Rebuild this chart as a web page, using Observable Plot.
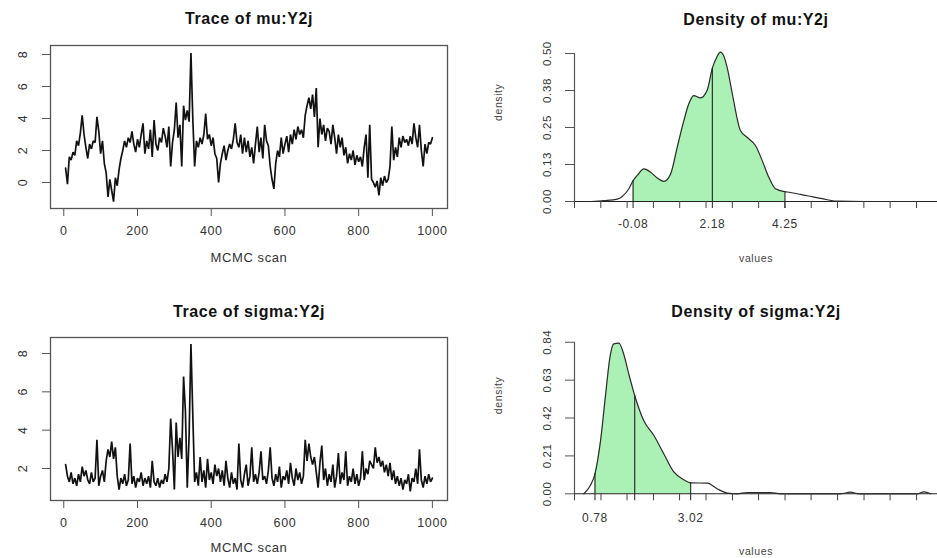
<!DOCTYPE html>
<html><head><meta charset="utf-8">
<script src="https://cdn.jsdelivr.net/npm/d3@7"></script>
<script src="https://cdn.jsdelivr.net/npm/@observablehq/plot@0.6"></script>
<style>
body{margin:0;background:#fff;}
#wrap{position:relative;width:937px;height:558px;overflow:hidden;background:#fff;}
.cell{position:absolute;}
</style></head><body><div id="wrap"></div>
<script>
const FONT = "'Liberation Sans', Arial, Helvetica, sans-serif";

// ---- trace plots ----
const traceTicksX = [0, 200, 400, 600, 800, 1000];
const traceStep = 5;
const muTraceYTicks = [0, 2, 4, 6, 8];
const sigmaTraceYTicks = [2, 4, 6, 8];
const muTrace = [
  0.9, -0.1, 1.6, 1.4, 1.9, 1.7, 2.6, 2.3, 3.1, 4.2,
  3.0, 2.2, 1.5, 2.4, 2.1, 2.6, 2.5, 4.1, 3.2, 1.8,
  2.6, 1.2, 0.6, -0.9, 0.2, -0.5, -1.2, 0.3, -0.2, 0.8,
  1.5, 2.0, 2.6, 2.2, 2.8, 2.5, 3.2, 2.4, 1.9, 2.7,
  2.2, 3.0, 3.7, 1.8, 2.6, 2.1, 3.3, 1.6, 3.9, 2.4,
  2.0, 2.8, 2.5, 3.4, 2.9, 2.2, 3.5, 1.0, 2.5, 3.3,
  5.0, 2.8, 3.6, 1.0, 4.8, 3.9, 4.5, 3.8, 8.1, 4.0,
  1.0, 2.6, 2.2, 2.8, 2.4, 3.0, 4.3, 2.7, 3.0, 2.3,
  2.8, 1.8, 1.5, 0.0, 1.2, 1.8, 2.3, 1.4, 2.0, 2.4,
  2.1, 2.7, 3.7, 2.5, 2.2, 3.0, 1.8, 2.8, 1.9, 2.6,
  1.6, 2.2, 1.2, 2.4, 3.5, 1.9, 2.8, 1.5, 3.6, 2.6,
  2.3, 1.0, 0.2, -0.4, 1.2, 2.0, 1.6, 2.8, 1.8, 2.4,
  2.9, 1.9, 3.0, 2.4, 3.3, 2.7, 3.5, 3.0, 3.3, 2.8,
  4.2, 4.8, 5.3, 4.6, 5.5, 4.1, 5.9, 2.2, 4.0, 3.0,
  3.6, 2.6, 3.4, 3.2, 2.4, 3.6, 2.8, 1.8, 3.0, 2.2,
  2.8, 1.7, 2.2, 1.2, 1.8, 1.4, 2.0, 1.1, 1.7, 1.3,
  1.6, 1.0, 2.2, 3.0, 0.3, 3.6, 0.2, 0.0, -0.3, 0.1,
  -0.8, 0.3, -0.2, 0.4, 0.0, 0.2, 1.0, 3.5, 1.4, 2.2,
  1.6, 2.8, 2.2, 2.9, 2.5, 2.7, 2.3, 2.9, 2.4, 3.7,
  2.8, 2.2, 3.6, 2.0, 1.0, 2.4, 1.8, 2.5, 2.4, 2.8
];
const sigmaTrace = [
  2.2, 1.6, 1.3, 1.8, 1.2, 1.5, 1.1, 1.7, 1.3, 2.1,
  1.6, 1.9, 1.4, 1.2, 1.8, 1.3, 1.5, 3.5, 1.1, 1.6,
  1.9, 1.3, 2.4, 3.0, 2.6, 3.4, 2.5, 3.1, 1.6, 0.9,
  1.5, 1.2, 1.7, 1.1, 1.4, 3.3, 1.2, 1.6, 1.0, 1.5,
  1.3, 1.8, 1.1, 1.5, 1.2, 1.6, 1.0, 2.4, 1.3, 1.1,
  1.5, 1.0, 1.4, 1.2, 1.7, 1.3, 2.0, 4.6, 3.0, 0.9,
  4.4, 2.6, 3.6, 2.5, 6.8, 5.0, 1.0, 3.7, 8.5, 4.8,
  1.3, 1.8, 1.1, 2.6, 1.3, 1.9, 1.0, 2.5, 1.4, 1.8,
  1.2, 2.2, 1.6, 2.0, 1.3, 1.9, 1.1, 2.4, 1.5, 1.0,
  1.8, 1.2, 1.5, 0.9, 3.3, 1.4, 1.0, 1.7, 2.2, 1.1,
  1.6, 3.1, 1.3, 1.7, 1.2, 1.8, 2.9, 1.4, 1.6, 1.2,
  1.9, 3.1, 1.5, 1.1, 1.7, 1.3, 2.1, 1.0, 1.6, 1.4,
  1.9, 1.2, 2.3, 1.5, 1.1, 2.0, 1.4, 1.8, 1.2, 1.6,
  3.5, 2.4, 3.3, 2.6, 2.2, 2.6, 1.8, 1.0, 2.3, 3.2,
  1.4, 2.0, 1.1, 1.7, 1.3, 2.2, 1.0, 1.6, 2.8, 1.2,
  1.8, 1.4, 2.9, 1.1, 1.6, 1.3, 2.0, 1.2, 1.7, 1.1,
  1.5, 2.9, 1.4, 2.0, 1.7, 2.4, 2.2, 2.0, 3.1, 2.3,
  2.6, 2.1, 2.4, 1.8, 2.2, 1.6, 2.3, 1.4, 1.9, 1.2,
  1.6, 1.1, 1.5, 0.9, 1.4, 1.2, 1.7, 0.8, 1.5, 1.3,
  2.0, 1.2, 3.0, 1.4, 1.0, 1.6, 1.2, 1.7, 1.3, 1.5
];

// ---- density plots ----
const muDensX = [-1.29, -0.91, -0.53, -0.39, -0.20, -0.08, 0.04, 0.23, 0.42, 0.61, 0.80, 0.99, 1.18, 1.37, 1.51, 1.65, 1.84, 2.03, 2.18, 2.31, 2.41, 2.50, 2.60, 2.75, 2.98, 3.17, 3.41, 3.60, 3.79, 3.98, 4.25, 4.31, 4.69, 5.07, 5.46, 5.74, 6.5, 7.3, 8.1];
const muDensY = [0, 0.003, 0.008, 0.017, 0.043, 0.070, 0.088, 0.110, 0.099, 0.079, 0.068, 0.093, 0.184, 0.274, 0.330, 0.358, 0.350, 0.375, 0.450, 0.488, 0.505, 0.493, 0.454, 0.364, 0.240, 0.217, 0.189, 0.139, 0.082, 0.043, 0.033, 0.032, 0.024, 0.015, 0.006, 0.001, 0, 0, 0];
const muQuant = [-0.08, 2.18, 4.25];
const muQuantLabels = ["-0.08", "2.18", "4.25"];
const muQuantDens = [0.070, 0.450, 0.033];
const muDensTicks = [-1.75, -1.0, -0.25, 0.5, 1.25, 2.0, 2.75, 3.5, 4.25, 5.0, 5.75, 6.5, 7.25, 8.0];
const muDensYTicks = [0, 0.125, 0.25, 0.375, 0.5];
const muDensYLabels = ["0.00", "0.13", "0.25", "0.38", "0.50"];

const sigmaDensX = [0.52, 0.67, 0.78, 0.91, 1.03, 1.13, 1.22, 1.34, 1.45, 1.57, 1.71, 1.92, 2.16, 2.39, 2.63, 2.86, 3.02, 3.41, 3.64, 3.88, 4.11, 4.34, 4.89, 5.12, 6.53, 6.76, 6.96, 8.33, 8.48, 8.64];
const sigmaDensY = [0, 0.046, 0.111, 0.295, 0.554, 0.757, 0.831, 0.835, 0.776, 0.665, 0.545, 0.406, 0.323, 0.222, 0.120, 0.078, 0.061, 0.059, 0.028, 0.004, 0, 0.007, 0.007, 0, 0, 0.009, 0, 0, 0.011, 0];
const sigmaQuant = [0.78, 1.71, 3.02];
const sigmaQuantLabels = ["0.78", "", "3.02"];
const sigmaQuantDens = [0.111, 0.545, 0.061];
const sigmaDensTicks = [0.30, 0.92, 1.53, 2.15, 2.76, 3.38, 4.00, 4.61, 5.23, 5.84, 6.46, 7.08, 7.69, 8.31];
const sigmaDensYTicks = [0, 0.21, 0.42, 0.63, 0.84];
const sigmaDensYLabels = ["0.00", "0.21", "0.42", "0.63", "0.84"];

const wrap = document.getElementById("wrap");
function place(el, left, top) {
  const d = document.createElement("div");
  d.className = "cell";
  d.style.left = left + "px";
  d.style.top = top + "px";
  d.appendChild(el);
  wrap.appendChild(d);
}

const baseStyle = {fontFamily: FONT, fontSize: "12.5px", color: "#333", background: "#fff", letterSpacing: "0.6px"};

function tracePlot({values, yDomain, yTicks, title, marginTop, marginBottom, titleDy, labelDy}) {
  const data = values.map((v, i) => ({iter: (i + 1) * traceStep, v}));
  return Plot.plot({
    width: 470, height: 279,
    marginLeft: 50, marginRight: 23, marginTop, marginBottom,
    x: {domain: [-36, 1041]},
    y: {domain: yDomain},
    style: baseStyle,
    marks: [
      Plot.line(data, {x: "iter", y: "v", stroke: "#111", strokeWidth: 1.7, strokeLinejoin: "miter"}),
      Plot.frame({stroke: "#555", strokeWidth: 1.3}),
      Plot.axisX({ticks: traceTicksX, tickSize: 8, tickPadding: 10, tickFormat: d => String(d), label: null, stroke: "#555", fontSize: 12.5}),
      Plot.axisY({ticks: yTicks, tickSize: 8, tickFormat: () => "", label: null, stroke: "#555"}),
      Plot.text(yTicks, {y: d => d, frameAnchor: "left", dx: -28, rotate: -90, text: d => String(d), textAnchor: "middle", lineAnchor: "middle", fill: "#333", fontSize: 12.5}),
      Plot.text([title], {frameAnchor: "top", dy: titleDy, text: d => d, fontWeight: "bold", fontSize: 16, fill: "#111", lineAnchor: "middle"}),
      Plot.text(["MCMC scan"], {frameAnchor: "bottom", dy: labelDy, text: d => d, fontSize: 13, fill: "#333", lineAnchor: "middle"})
    ]
  });
}

function densPlot({xs, ys, q, qLabels, qDens, xTicks, yTicks, yLabels, xDomain, yDomain, marginTop, marginBottom, title, titleDy, labelPad, valuesDy}) {
  const data = xs.map((x, i) => ({x, y: ys[i]}));
  const lo = q[0], hi = q[q.length - 1];
  const shaded = data.filter(d => d.x >= lo && d.x <= hi);
  const labelMap = new Map(q.map((d, i) => [d, qLabels[i]]));
  return Plot.plot({
    width: 467, height: 279,
    marginLeft: 104, marginRight: 0, marginTop, marginBottom,
    x: {domain: xDomain},
    y: {domain: yDomain},
    style: baseStyle,
    marks: [
      Plot.areaY(shaded, {x: "x", y: "y", fill: "#abf0b5", curve: "monotone-x"}),
      Plot.ruleY([0], {stroke: "#222", strokeWidth: 1.1}),
      Plot.line(data, {x: "x", y: "y", stroke: "#2a2a2a", strokeWidth: 1.2, curve: "monotone-x"}),
      Plot.ruleX(q, {x: d => d, y1: 0, y2: (d, i) => qDens[i], stroke: "#222", strokeWidth: 1.1}),
      Plot.ruleX([xDomain[0]], {y1: 0, y2: yTicks[yTicks.length - 1], stroke: "#555", strokeWidth: 1.2}),
      Plot.axisY({ticks: yTicks, tickSize: 9, tickFormat: () => "", label: null, stroke: "#555"}),
      Plot.text(yTicks, {y: d => d, frameAnchor: "left", dx: -27, rotate: -90, text: (d, i) => yLabels[i], textAnchor: "middle", lineAnchor: "middle", fill: "#333", fontSize: 11.5}),
      Plot.axisX({ticks: xTicks, tickSize: 7, tickFormat: () => "", label: null, stroke: "#444"}),
      Plot.axisX({ticks: q, tickSize: 7, tickPadding: labelPad, tickFormat: d => labelMap.get(d), label: null, stroke: "#222", fontSize: 12}),
      Plot.text(["density"], {frameAnchor: "left", dx: -76, rotate: -90, text: d => d, fontSize: 10.5, fill: "#444", lineAnchor: "middle"}),
      Plot.text(["values"], {frameAnchor: "bottom", dy: valuesDy, text: d => d, fontSize: 10.5, fill: "#444", lineAnchor: "middle"}),
      Plot.text([title], {frameAnchor: "top", dy: titleDy, text: d => d, fontWeight: "bold", fontSize: 16, fill: "#111", lineAnchor: "middle"})
    ]
  });
}

place(tracePlot({values: muTrace, yDomain: [-1.625, 8.5625], yTicks: muTraceYTicks, title: "Trace of mu:Y2j", marginTop: 45, marginBottom: 71, titleDy: -27, labelDy: 49}), 0, 0);
place(tracePlot({values: sigmaTrace, yDomain: [0.33, 8.835], yTicks: sigmaTraceYTicks, title: "Trace of sigma:Y2j", marginTop: 58, marginBottom: 58, titleDy: -26, labelDy: 47}), 0, 279);
place(densPlot({xs: muDensX, ys: muDensY, q: muQuant, qLabels: muQuantLabels, qDens: muQuantDens, xTicks: muDensTicks, yTicks: muDensYTicks, yLabels: muDensYLabels, xDomain: [-1.75, 8.60], yDomain: [0, 0.544], marginTop: 40, marginBottom: 78, title: "Density of mu:Y2j", titleDy: -21, labelPad: 10.5, valuesDy: 57}), 470, 0);
place(densPlot({xs: sigmaDensX, ys: sigmaDensY, q: sigmaQuant, qLabels: sigmaQuantLabels, qDens: sigmaQuantDens, xTicks: sigmaDensTicks, yTicks: sigmaDensYTicks, yLabels: sigmaDensYLabels, xDomain: [0.30, 8.80], yDomain: [0, 0.883], marginTop: 55, marginBottom: 64.7, title: "Density of sigma:Y2j", titleDy: -23, labelPad: 12.5, valuesDy: 58}), 470, 279);
</script></body></html>
